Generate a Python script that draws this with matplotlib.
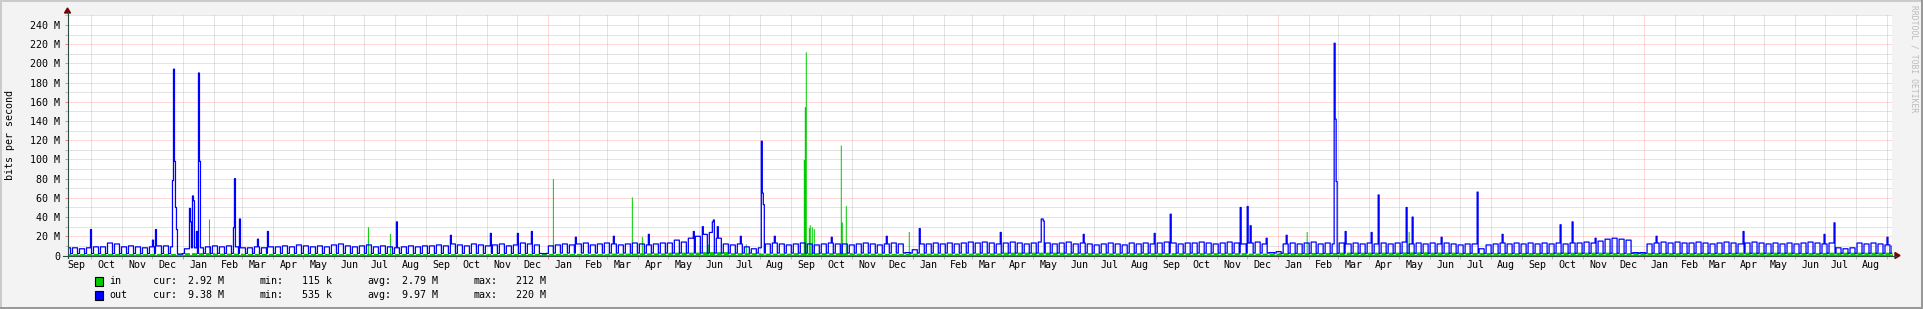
import numpy as np
import pandas as pd
import matplotlib
matplotlib.use("Agg")
import matplotlib.pyplot as plt
import matplotlib.dates as mdates
from matplotlib.patches import Rectangle, Polygon
from matplotlib.lines import Line2D
from matplotlib.ticker import MultipleLocator, FuncFormatter

plt.rcParams["font.family"] = ["DejaVu Sans Mono"]
plt.rcParams["font.size"] = 7.2

# ---- data (Mbit/s) ----
start = "2016-09-07"
n_days = 1826

# weekday (Mon-Fri) level of "out", one value per week, weeks start Mon 2016-09-05
out_weekday = [
    8, 8, 7, 8, 9, 9, 13, 12, 9, 10, 9, 8, 9, 10, 10, 9, 1.5,
    7, 8, 8, 9, 10, 9, 10, 9, 8, 8, 9, 8, 9,
    9, 10, 9, 11, 10, 9, 10, 9, 11, 12, 10, 9, 10, 11, 9, 10, 9, 8, 9, 10, 9, 10,
    10, 11, 10, 12, 11, 10, 12, 11, 10,
    11, 12, 10, 11, 13, 12, 11, 2,
    10, 11, 12, 11, 12, 13, 11, 12, 13, 12, 11, 12, 13, 12, 11, 12, 13,
    13, 16, 14, 18, 20, 22, 24, 18, 12,
    11, 12, 9, 7, 8, 12, 13, 12, 11,
    12, 13, 12, 11, 12, 13, 12,
    12, 11, 12, 13, 12, 11, 12, 13, 12, 3, 6,
    12, 12, 13, 12, 13, 12, 13, 14,
    13, 14, 13, 12, 13, 14, 13, 12, 13, 14, 13,
    12, 13, 14, 12, 13, 12, 11, 12, 13, 12, 11, 13, 12, 13, 12,
    13, 14, 13, 12, 13,
    13, 14, 13, 12, 13, 14, 13, 12, 13, 14, 12, 3, 4,
    12, 13, 12, 13, 14, 12, 13, 12, 13, 12, 13, 12,
    13, 12, 13, 12, 13, 14, 12, 13, 12, 13, 12, 13, 12, 11, 12,
    12, 7, 11, 12, 13, 12, 13,
    12, 13, 12, 13, 12, 13, 12, 13,
    13, 14, 13, 15, 17, 18, 17, 16, 3, 3,
    12, 13, 14, 13, 14, 13,
    13, 14, 13, 12, 13, 14, 13, 12, 13, 14, 13, 12, 13, 12, 13,
    12, 13, 14, 13, 12, 13, 8, 7, 8, 13, 12, 13, 12, 11, 10,
]
years = [2016, 2017, 2018, 2019, 2020, 2021]
out_weekend = [2.0, 2.2, 2.5, 2.5, 2.3, 2.3]
in_weekend = [1.0, 1.0, 1.2, 1.2, 1.3, 1.4]
# weekday level of "in", one value per month, Sep 2016 .. Sep 2021
in_weekday = [
    2.0, 2.2, 2.0, 2.2,
    3.0, 2.5, 2.2, 2.0, 2.2, 2.0, 2.2, 2.0, 2.0, 1.8, 2.0, 2.2,
    2.2, 2.0, 2.5, 2.8, 3.5, 4.0, 3.0, 2.5, 3.0, 3.0, 2.5, 2.2,
    2.5, 2.5, 2.8, 3.5, 3.5, 3.0, 2.8, 3.0, 3.0, 3.0, 3.0, 2.5,
    3.0, 3.2, 3.5, 3.5, 3.8, 3.5, 3.2, 3.0, 3.2, 3.5, 3.5, 3.0,
    3.2, 3.0, 3.2, 3.5, 3.5, 3.2, 3.5, 3.5, 3.5,
]

# single-day peaks, day = days since start
out_spike_day = [23, 85, 88, 105, 106, 107, 108, 109,
                 122, 123, 125, 126, 129, 131, 132, 166, 167, 172, 190, 200, 329,
                 383, 423, 450, 464, 508, 546, 581, 626, 635, 645, 646, 650,
                 673, 694, 695, 696, 707, 764, 819, 852, 933, 974, 975, 976,
                 1016, 1087, 1103, 1173, 1180, 1183, 1199, 1219,
                 1267, 1268, 1269, 1278, 1304, 1311, 1339, 1345, 1374,
                 1410, 1435, 1493, 1505, 1528, 1589, 1676, 1757, 1767, 1820]
out_spike_val = [27, 16, 27, 78, 194, 98, 50, 27,
                 49, 35, 62, 57, 25, 190, 98, 29, 80, 38, 17, 25, 35,
                 21, 23, 23, 25, 19, 20, 22, 25, 30, 35, 37, 30,
                 20, 119, 65, 53, 20, 19, 20, 28, 24, 38, 38, 36,
                 22, 23, 43, 50, 51, 31, 18, 21,
                 221, 142, 77, 25, 24, 63, 50, 40, 19,
                 66, 22, 32, 35, 18, 20, 25, 22, 34, 19]
in_spike_day = [141, 300, 322, 485, 564, 574, 632, 640, 678,
                736, 737, 738, 741, 742, 744, 746, 773, 774, 778, 841, 1239, 1341]
in_spike_val = [38, 30, 23, 80, 61, 20, 10, 12, 12,
                100, 155, 212, 29, 32, 30, 28, 115, 35, 52, 25, 25, 25]

legend_names = ["in", "out"]
legend_colors = ["#00CC00", "#0000FF"]
legend_cur = ["2.92 M", "9.38 M"]
legend_min = ["115 k", "535 k"]
legend_avg = ["2.79 M", "9.97 M"]
legend_max = ["212 M", "220 M"]

# ---- build daily series ----
days = pd.Timestamp(start) + pd.to_timedelta(np.arange(n_days), unit="D")
week = ((days - pd.Timestamp("2016-09-05")).days // 7).to_numpy()
weekend = (days.dayofweek >= 5)
yi = (days.year - years[0]).to_numpy()
mi = ((days.year - 2016) * 12 + days.month - 9).to_numpy()

out = np.where(weekend, np.array(out_weekend)[yi], np.array(out_weekday, dtype=float)[week])
inn = np.where(weekend, np.array(in_weekend)[yi], np.array(in_weekday)[mi])
out[out_spike_day] = out_spike_val
inn[in_spike_day] = in_spike_val

x = np.append(days.to_numpy(), (days[-1] + pd.Timedelta(days=1)).to_datetime64())
out_s = np.append(out, out[-1])
inn_s = np.append(inn, inn[-1])

# ---- figure ----
W, H = 1923, 309
fig = plt.figure(figsize=(W / 100, H / 100), dpi=100, facecolor="#F3F3F3")


def px(xp, yp):
    return xp / W, 1 - yp / H


L, R, T, B = 67.5, 1892, 15.4, 255.5
ax = fig.add_axes([L / W, 1 - B / H, (R - L) / W, (B - T) / H])
ax.set_facecolor("white")
ax.set_axisbelow(True)

ax.fill_between(x, inn_s, step="post", color="#00CC00", lw=0, zorder=2)
ax.step(x, out_s, where="post", color="#0000FF", lw=0.9, zorder=3)

ax.set_xlim(pd.Timestamp(start), pd.Timestamp(start) + pd.Timedelta(days=n_days - 1))
ax.set_ylim(0, 250)

ax.xaxis.set_major_locator(mdates.YearLocator())
ax.xaxis.set_minor_locator(mdates.MonthLocator())
ax.yaxis.set_major_locator(MultipleLocator(20))
ax.yaxis.set_minor_locator(MultipleLocator(10))
ax.yaxis.set_major_formatter(FuncFormatter(lambda v, p: "0" if v == 0 else f"{v:.0f} M"))

dot = (0, (1, 1))
ax.grid(which="major", color="#FF8080", alpha=0.6, lw=0.72, ls=dot)
ax.grid(which="minor", color="#BABABA", alpha=0.8, lw=0.72, ls=dot)
for s in ax.spines.values():
    s.set_visible(False)

ax.tick_params(axis="x", which="both", labelbottom=False, length=2.2, width=0.72, direction="out")
ax.tick_params(axis="x", which="major", color="#FF8080")
ax.tick_params(axis="x", which="minor", color="#BABABA")
ax.tick_params(axis="y", which="both", length=2.2, width=0.72, direction="out", pad=2.9)
ax.tick_params(axis="y", which="major", color="#FF8080", labelsize=7.2)
ax.tick_params(axis="y", which="minor", color="#BABABA")

# month labels centred mid-month
label_dates = pd.date_range("2016-09-01", "2021-08-01", freq="MS") + pd.Timedelta(days=15)
for d in label_dates:
    ax.text(d, -9.5 / (B - T), d.strftime("%b"), transform=ax.get_xaxis_transform(),
            ha="center", va="center", fontsize=7.2)

# axes lines and arrows
axis_c = "#2C4D43"
fig.add_artist(Line2D([px(67.5, 0)[0]] * 2, [px(0, 258)[1], px(0, 12)[1]], color=axis_c, lw=0.8))
fig.add_artist(Line2D([px(63, 0)[0], px(1896, 0)[0]], [px(0, 255.5)[1]] * 2, color=axis_c, lw=0.8))
fig.add_artist(Polygon([px(64.5, 13), px(70.5, 13), px(67.5, 8)], closed=True,
                       transform=fig.transFigure, color="#7F0000"))
fig.add_artist(Polygon([px(1895, 252.5), px(1895, 258.5), px(1900, 255.5)], closed=True,
                       transform=fig.transFigure, color="#7F0000"))

# labels
fig.text(*px(10.5, 135), "bits per second", rotation=90, ha="center", va="center", fontsize=7.2)
fig.text(*px(1914, 5), "RRDTOOL / TOBI OETIKER", rotation=-90, ha="center", va="top",
         fontsize=5.8, color="#BBBBBB")

# legend
rows_y = [281.5, 295.5]
for i, name in enumerate(legend_names):
    yy = rows_y[i]
    fig.add_artist(Rectangle(px(94.5, yy + 4.5), 8 / W, 9 / H, transform=fig.transFigure,
                             facecolor=legend_colors[i], edgecolor="black", lw=0.8))
    fig.text(*px(109, yy), name, va="center")
    fig.text(*px(153, yy), "cur:", va="center")
    fig.text(*px(188, yy), legend_cur[i], va="center")
    fig.text(*px(260, yy), "min:", va="center")
    fig.text(*px(302, yy), legend_min[i], va="center")
    fig.text(*px(367, yy), "avg:", va="center")
    fig.text(*px(402, yy), legend_avg[i], va="center")
    fig.text(*px(474, yy), "max:", va="center")
    fig.text(*px(516, yy), legend_max[i], va="center")

# 3d border
fig.add_artist(Rectangle((0, 1 - 2 / H), 1, 2 / H, transform=fig.transFigure, color="#CBCBCB", lw=0))
fig.add_artist(Rectangle((0, 0), 2 / W, 1, transform=fig.transFigure, color="#CBCBCB", lw=0))
fig.add_artist(Rectangle((0, 0), 1, 2 / H, transform=fig.transFigure, color="#999999", lw=0))
fig.add_artist(Rectangle((1 - 2 / W, 0), 2 / W, 1, transform=fig.transFigure, color="#999999", lw=0))

fig.savefig("out.png", dpi=100, facecolor=fig.get_facecolor())
